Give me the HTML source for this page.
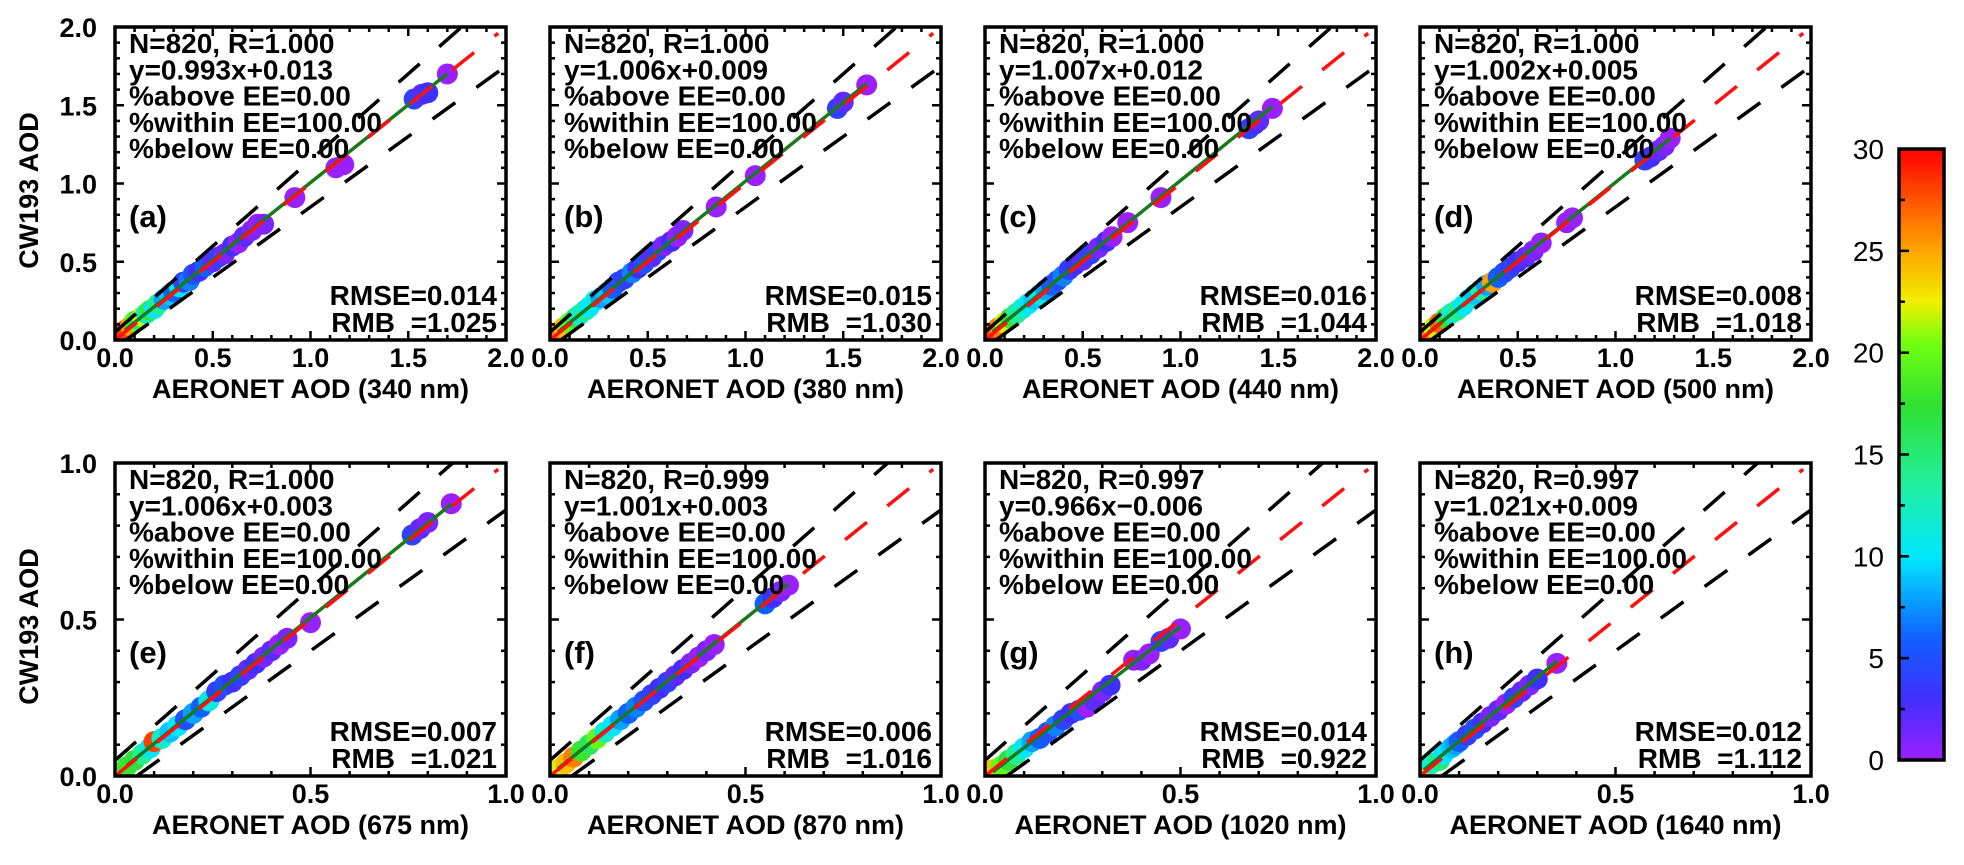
<!DOCTYPE html>
<html><head><meta charset="utf-8"><style>
html,body{margin:0;padding:0;background:#fff;}
svg text{font-family:"Liberation Sans",Arial,sans-serif;}
</style></head><body>
<svg id="fig" xmlns="http://www.w3.org/2000/svg" width="1964" height="860" viewBox="0 0 1964 860">
<defs>
<linearGradient id="cbgrad" x1="0" y1="1" x2="0" y2="0">
<stop offset="0" stop-color="#9a20ff"/>
<stop offset="0.1" stop-color="#4030ff"/>
<stop offset="0.2" stop-color="#1060ff"/>
<stop offset="0.33" stop-color="#00e6ff"/>
<stop offset="0.45" stop-color="#20f0a0"/>
<stop offset="0.58" stop-color="#30e030"/>
<stop offset="0.68" stop-color="#70ff10"/>
<stop offset="0.75" stop-color="#f0f000"/>
<stop offset="0.84" stop-color="#ffa000"/>
<stop offset="0.92" stop-color="#ff5000"/>
<stop offset="1" stop-color="#ff0000"/>
</linearGradient>
</defs>
</svg>
<script>
// ---- data ----
const panelLabels = ["(a)","(b)","(c)","(d)","(e)","(f)","(g)","(h)"];
const wavelengths = ["340","380","440","500","675","870","1020","1640"];
const axisMax = [2,2,2,2,1,1,1,1];
const statN = ["N=820, R=1.000","N=820, R=1.000","N=820, R=1.000","N=820, R=1.000","N=820, R=1.000","N=820, R=0.999","N=820, R=0.997","N=820, R=0.997"];
const statFit = ["y=0.993x+0.013","y=1.006x+0.009","y=1.007x+0.012","y=1.002x+0.005","y=1.006x+0.003","y=1.001x+0.003","y=0.966x\u22120.006","y=1.021x+0.009"];
const fitSlope = [0.993,1.006,1.007,1.002,1.006,1.001,0.966,1.021];
const fitIntercept = [0.013,0.009,0.012,0.005,0.003,0.003,-0.006,0.009];
const statRMSE = ["0.014","0.015","0.016","0.008","0.007","0.006","0.014","0.012"];
const statRMB = ["1.025","1.030","1.044","1.018","1.021","1.016","0.922","1.112"];
const yTicksTop = ["0.0","0.5","1.0","1.5","2.0"];
const yTicksBottom = ["0.0","0.5","1.0"];
const cbTicks = [0,5,10,15,20,25,30];

const aeronetA = [0.05,0.08,0.1,0.12,0.14,0.16,0.18,0.2,0.22,0.25,0.28,0.3,0.33,0.35,0.38,0.4,0.43,0.46,0.5,0.53,0.56,0.6,0.63,0.66,0.7,0.73,0.76,0.92,1.13,1.17,1.53,1.57,1.6,1.7];
const cw193A   = [0.06,0.09,0.12,0.13,0.15,0.17,0.19,0.2,0.23,0.26,0.29,0.31,0.34,0.37,0.38,0.42,0.44,0.47,0.5,0.53,0.55,0.6,0.62,0.66,0.7,0.74,0.74,0.91,1.1,1.12,1.54,1.57,1.58,1.7];
const hoursA   = [28,25,20,15,22,12,18,10,14,8,9,6,11,4,7,5,3,6,2,4,1,3,0,2,1,0,1,0,0,0,4,2,3,0];

const aeronetB = [0.04,0.07,0.1,0.13,0.15,0.18,0.2,0.23,0.26,0.29,0.32,0.35,0.38,0.42,0.45,0.48,0.52,0.55,0.58,0.62,0.65,0.68,0.85,1.05,1.47,1.5,1.62];
const cw193B   = [0.05,0.08,0.11,0.14,0.16,0.19,0.21,0.25,0.27,0.3,0.33,0.37,0.39,0.43,0.46,0.49,0.53,0.57,0.6,0.63,0.66,0.7,0.85,1.05,1.48,1.52,1.63];
const hoursB   = [26,24,20,16,12,14,10,11,8,9,6,5,4,7,3,5,2,4,1,3,0,1,0,0,4,2,0];

const aeronetC = [0.04,0.07,0.1,0.13,0.16,0.19,0.22,0.25,0.28,0.31,0.34,0.37,0.4,0.43,0.46,0.5,0.54,0.58,0.62,0.65,0.73,0.9,1.35,1.38,1.4,1.47];
const cw193C   = [0.05,0.08,0.11,0.14,0.17,0.2,0.23,0.26,0.29,0.32,0.35,0.38,0.41,0.45,0.48,0.51,0.55,0.59,0.63,0.66,0.75,0.91,1.35,1.38,1.4,1.48];
const hoursC   = [28,26,22,18,14,12,10,9,11,8,6,5,7,4,3,2,4,1,3,0,0,0,4,3,2,0];

const aeronetD = [0.04,0.07,0.1,0.13,0.16,0.19,0.22,0.25,0.28,0.31,0.34,0.37,0.4,0.43,0.46,0.5,0.54,0.58,0.62,0.75,0.78,1.15,1.18,1.22,1.25,1.28];
const cw193D   = [0.05,0.08,0.11,0.14,0.17,0.19,0.22,0.26,0.29,0.32,0.35,0.37,0.4,0.43,0.46,0.5,0.53,0.57,0.62,0.75,0.78,1.15,1.17,1.21,1.24,1.29];
const hoursD   = [26,22,27,18,12,14,10,11,9,13,8,25,6,5,4,3,2,1,0,0,0,4,3,2,1,0];

const aeronetE = [0.03,0.05,0.07,0.09,0.1,0.12,0.14,0.16,0.18,0.2,0.22,0.24,0.26,0.28,0.3,0.32,0.34,0.36,0.38,0.4,0.42,0.44,0.5,0.76,0.78,0.8,0.86];
const cw193E   = [0.03,0.05,0.07,0.09,0.11,0.12,0.14,0.16,0.18,0.2,0.22,0.24,0.27,0.29,0.3,0.32,0.34,0.36,0.38,0.4,0.42,0.44,0.49,0.77,0.79,0.81,0.87];
const hoursE   = [18,17,14,10,28,12,9,10,5,8,6,11,4,5,3,4,2,3,1,2,0,1,0,4,2,1,0];

const aeronetF = [0.02,0.04,0.06,0.08,0.1,0.12,0.14,0.16,0.18,0.2,0.22,0.24,0.26,0.28,0.3,0.32,0.34,0.36,0.38,0.4,0.42,0.55,0.57,0.59,0.61];
const cw193F   = [0.02,0.04,0.06,0.08,0.1,0.12,0.14,0.16,0.18,0.2,0.22,0.24,0.26,0.28,0.3,0.32,0.34,0.36,0.38,0.4,0.42,0.55,0.57,0.59,0.61];
const hoursF   = [22,24,26,18,16,20,12,10,8,6,7,5,4,3,4,2,3,1,0,1,0,6,3,1,0];

const aeronetG = [0.02,0.04,0.06,0.08,0.1,0.12,0.14,0.16,0.18,0.2,0.22,0.24,0.26,0.28,0.3,0.32,0.38,0.4,0.42,0.45,0.47,0.5];
const cw193G   = [0.02,0.03,0.05,0.07,0.09,0.11,0.12,0.14,0.16,0.18,0.2,0.21,0.22,0.24,0.27,0.29,0.37,0.37,0.39,0.43,0.44,0.47];
const hoursG   = [24,20,17,14,10,8,6,5,7,4,3,5,0,2,1,3,0,1,0,4,2,0];

const aeronetH = [0.01,0.02,0.03,0.05,0.06,0.08,0.09,0.1,0.12,0.14,0.16,0.18,0.2,0.22,0.24,0.26,0.28,0.3,0.35];
const cw193H   = [0.02,0.03,0.04,0.05,0.07,0.09,0.1,0.11,0.13,0.15,0.17,0.19,0.21,0.23,0.25,0.27,0.29,0.31,0.36];
const hoursH   = [20,24,12,15,10,9,8,6,4,5,3,1,2,0,4,2,1,3,0];

const panelX = [aeronetA,aeronetB,aeronetC,aeronetD,aeronetE,aeronetF,aeronetG,aeronetH];
const panelY = [cw193A,cw193B,cw193C,cw193D,cw193E,cw193F,cw193G,cw193H];
const panelC = [hoursA,hoursB,hoursC,hoursD,hoursE,hoursF,hoursG,hoursH];

// ---- drawing ----
const NS = "http://www.w3.org/2000/svg";
const svg = document.getElementById("fig");
function mk(tag, attrs, parent){
  const e = document.createElementNS(NS, tag);
  for (const k in attrs) e.setAttribute(k, attrs[k]);
  (parent||svg).appendChild(e);
  return e;
}
const cStops = [[0,[154,32,255]],[3,[64,48,255]],[6,[16,96,255]],[10,[0,230,255]],[13.5,[32,240,160]],[17.5,[48,224,48]],[20.5,[112,255,16]],[22.5,[240,240,0]],[25,[255,160,0]],[27.5,[255,80,0]],[30,[255,0,0]]];
function cmap(v){
  v=Math.max(0,Math.min(30,v));
  for(let i=1;i<cStops.length;i++){
    if(v<=cStops[i][0]){
      const a=cStops[i-1],b=cStops[i],t=(v-a[0])/(b[0]-a[0]);
      const c=a[1].map((x,j)=>Math.round(x+(b[1][j]-x)*t));
      return "rgb("+c.join(",")+")";
    }
  }
  return "rgb(255,0,0)";
}

const boxW = 391, boxH = 313;
const colX = [115,550,985,1420];
const rowY = [27,463];

for (let p=0;p<8;p++){
  const L = colX[p%4], T = rowY[Math.floor(p/4)], R = L+boxW, B = T+boxH;
  const m = axisMax[p];
  const sx = v => L + v/m*boxW;
  const sy = v => B - v/m*boxH;
  const g = mk("g",{});
  
  
  const clipId = "clip"+p;
  const cp = mk("clipPath",{id:clipId},g);
  mk("rect",{x:L,y:T,width:boxW,height:boxH},cp);
  const inner = mk("g",{"clip-path":"url(#"+clipId+")"},g);
  const xs = panelX[p], ys = panelY[p], cs = panelC[p];
  const pts = mk("g",{},inner);
  
  
  for (let i=0;i<xs.length;i++){
    const c = mk("circle",{cx:sx(xs[i]),cy:sy(ys[i]),r:10.5,fill:cmap(cs[i])},pts);
    
    
  }
  const up = mk("line",{x1:sx(0),y1:sy(0.05),x2:sx((m-0.05)/1.1),y2:sy(m),stroke:"#000","stroke-width":3.5,"stroke-dasharray":"28 26"},inner);
  
  
  const lo = mk("line",{x1:sx(0.05/0.9),y1:sy(0),x2:sx(m),y2:sy(0.9*m-0.05),stroke:"#000","stroke-width":3.5,"stroke-dasharray":"28 26"},inner);
  
  
  const xmin = Math.min(...xs), xmax = Math.max(...xs);
  const fl = mk("line",{x1:sx(xmin),y1:sy(fitSlope[p]*xmin+fitIntercept[p]),x2:sx(xmax),y2:sy(fitSlope[p]*xmax+fitIntercept[p]),stroke:"#1a7a1a","stroke-width":3.5},inner);
  
  
  const one = mk("line",{x1:sx(0),y1:sy(0),x2:sx(0.98*m),y2:sy(0.98*m),stroke:"#ff1010","stroke-width":3.5,"stroke-dasharray":"28 26"},inner);
  
  
  const tg = mk("g",{stroke:"#000","stroke-width":2.5},g);
  for (let k=0;k<=m*10+0.01;k++){
    const v=k/10, major = (k%5===0), len = major?9:5;
    const X=sx(v), Y=sy(v);
    mk("line",{x1:X,y1:B,x2:X,y2:B-len},tg);
    mk("line",{x1:X,y1:T,x2:X,y2:T+len},tg);
    mk("line",{x1:L,y1:Y,x2:L+len,y2:Y},tg);
    mk("line",{x1:R,y1:Y,x2:R-len,y2:Y},tg);
  }
  const frame = mk("rect",{x:L,y:T,width:boxW,height:boxH,fill:"none",stroke:"#000","stroke-width":3.5},g);
  
  
  const yt = p<4 ? yTicksTop : yTicksBottom;
  for (let k=0;k<yt.length;k++){
    const v = k*0.5;
    const tx = mk("text",{x:sx(v),y:B+27,"font-size":27,"font-weight":"bold","text-anchor":"middle"},g);
    tx.textContent = yt[k];
    
    
    if (p%4===0){
      const ty = mk("text",{x:L-18,y:sy(v)+10,"font-size":27,"font-weight":"bold","text-anchor":"end"},g);
      ty.textContent = yt[k];
      
      
    }
  }
  const xt = mk("text",{x:L+boxW/2,y:B+58,"font-size":27,"font-weight":"bold","text-anchor":"middle"},g);
  xt.textContent = "AERONET AOD ("+wavelengths[p]+" nm)";
  
  
  if (p%4===0){
    const cy = T+boxH/2+7;
    const yt2 = mk("text",{x:0,y:0,"font-size":27,"font-weight":"bold","text-anchor":"middle",transform:"translate(38,"+cy+") rotate(-90)"},g);
    yt2.textContent = "CW193 AOD";
    
    
  }
  const lines = [statN[p],statFit[p],"%above EE=0.00","%within EE=100.00","%below EE=0.00"];
  for (let i=0;i<lines.length;i++){
    const t = mk("text",{x:L+14,y:T+26+i*26.3,"font-size":28,"font-weight":"bold"},g);
    t.textContent = lines[i];
    
    
  }
  const pl = mk("text",{x:L+14,y:T+200,"font-size":31,"font-weight":"bold"},g);
  pl.textContent = panelLabels[p];
  
  
  const r1 = mk("text",{x:R-9,y:T+278,"font-size":28,"font-weight":"bold","text-anchor":"end"},g);
  r1.textContent = "RMSE="+statRMSE[p];
  
  
  const r2 = mk("text",{x:R-9,y:T+305,"font-size":28,"font-weight":"bold","text-anchor":"end"},g);
  r2.textContent = "RMB\u00a0\u00a0=" + statRMB[p];
  
  
}

const cbL=1899, cbR=1944, cbT=149, cbB=760;
const cb = mk("g",{});


const cbRect = mk("rect",{x:cbL,y:cbT,width:cbR-cbL,height:cbB-cbT,fill:"url(#cbgrad)",stroke:"#000","stroke-width":3.5},cb);


const cby = v => cbB - v/30*(cbB-cbT);
for (let v=0; v<=30; v+=2.5){
  const major = (v%5===0);
  mk("line",{x1:cbL,y1:cby(v),x2:cbL+(major?10:6),y2:cby(v),stroke:"#000","stroke-width":2.5},cb);
}
for (const v of cbTicks){
  const t = mk("text",{x:1884,y:cby(v)+10,"font-size":28,"text-anchor":"end"},cb);
  t.textContent = String(v);
  
  
}
</script>
</body></html>
